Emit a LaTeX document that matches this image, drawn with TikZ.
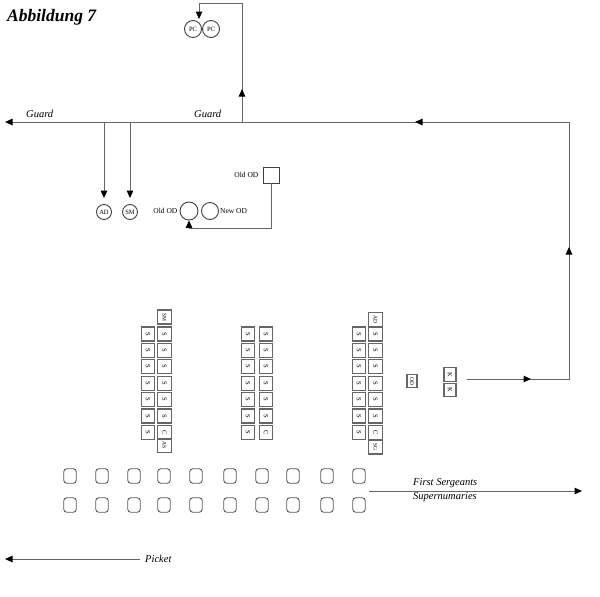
\documentclass[tikz,border=0pt]{standalone}
\usepackage{fontspec}
\setmainfont{Liberation Serif}
\usetikzlibrary{arrows.meta,decorations.markings}
\begin{document}
\begin{tikzpicture}[x=1pt,y=-1pt,
  ln/.style={draw=black!60, line width=1pt},
  tip/.style={-{Triangle[length=7.5pt,width=6.5pt,color=black]}},
  lbl/.style={font=\fontsize{10.5}{12}\selectfont\itshape, inner sep=0pt, anchor=base west},
  sm/.style={font=\fontsize{7.5}{8}\selectfont, inner sep=0pt},
  cbox/.style={draw=black!60, line width=1.1pt, minimum width=14pt, minimum height=13.5pt, inner sep=0pt, font=\fontsize{6.5}{7}\selectfont, rotate=-90},
  rbox/.style={draw=black!65, line width=0.9pt, rounded corners=3pt, minimum width=12.5pt, minimum height=14.5pt, inner sep=0pt},
  circ/.style={circle, draw=black!75, line width=0.9pt, inner sep=0pt, font=\fontsize{6.5}{7}\selectfont}
]
\useasboundingbox (0,0) rectangle (600,597);

% title
\node[font=\fontsize{17.5}{19}\selectfont\bfseries\itshape, anchor=base west, inner sep=0pt] (title) at (7,21) {Abbildung 7};

% PC circles
\node[circ, minimum size=17pt] (pc1) at (193,29) {PC};
\node[circ, minimum size=17pt] (pc2) at (211,29) {PC};

% main guard loop
\coordinate (kstart) at (467,379);
\coordinate (rbot) at (569,379);
\coordinate (rtop) at (569,122);
\coordinate (gL) at (5,122);
\draw[ln, tip, postaction={decorate}, decoration={markings,
   mark=at position 64pt with {\arrow{Triangle[length=7.5pt,width=6.5pt,color=black]}},
   mark=at position 234pt with {\arrow{Triangle[length=7.5pt,width=6.5pt,color=black]}},
   mark=at position 513pt with {\arrow{Triangle[length=7.5pt,width=6.5pt,color=black]}}}]
  (kstart) -- (rbot) -- (rtop) -- (gL);

\node[lbl] (guard1) at (26,117) {Guard};
\node[lbl] (guard2) at (194,117) {Guard};

% line to PC
\coordinate (j1) at (242,122);
\coordinate (t1) at (242,3);
\coordinate (t2) at (199,3);
\coordinate (t3) at (199,19);
\draw[ln, tip, postaction={decorate}, decoration={markings,
   mark=at position 33pt with {\arrow{Triangle[length=7.5pt,width=6.5pt,color=black]}}}]
  (j1) -- (t1) -- (t2) -- (t3);

% AD / SM
\node[circ, minimum size=15pt] (ad) at (104,212) {AD};
\node[circ, minimum size=15pt] (smc) at (130,212) {SM};
\coordinate (ja) at (104,122);
\coordinate (jb) at (130,122);
\draw[ln, tip, shorten >=6pt] (ja) -- (ad);
\draw[ln, tip, shorten >=6pt] (jb) -- (smc);

% Old OD / New OD
\node[draw=black!75, line width=0.9pt, minimum size=16pt, inner sep=0pt] (oldsq) at (271,175) {};
\node[sm, anchor=east] (oldsqlbl) at ([xshift=-4pt]oldsq.west) {Old OD};
\node[circ, minimum size=18pt] (oldc) at (189,211) {};
\node[circ, minimum size=17pt] (newc) at (210,211) {};
\node[sm, anchor=east] (oldclbl) at ([xshift=-2pt]oldc.west) {Old OD};
\node[sm, anchor=west] (newclbl) at ([xshift=1pt]newc.east) {New OD};
\coordinate (lowy) at (0,228);
\draw[ln, tip] (oldsq.south) -- (oldsq.south |- lowy) -| (oldc.south);

% columns
\foreach \i in {0,...,6} {
  \node[cbox] (c1l\i) at (148,{334+16.4*\i}) {S};
  \node[cbox] (c2l\i) at (248,{334+16.4*\i}) {S};
  \node[cbox] (c3l\i) at (359,{334+16.4*\i}) {S};
}
\foreach \i in {0,...,5} {
  \node[cbox] (c1r\i) at (164.5,{334+16.4*\i}) {S};
  \node[cbox] (c2r\i) at (266,{334+16.4*\i}) {S};
  \node[cbox] (c3r\i) at (375.5,{334+16.4*\i}) {S};
}
\node[cbox] (c1r6) at (164.5,{334+16.4*6}) {C};
\node[cbox] (c2r6) at (266,{334+16.4*6}) {C};
\node[cbox] (c3r6) at (375.5,{334+16.4*6}) {C};
\node[cbox, font=\fontsize{5.5}{6}\selectfont] (c1top) at (164.5,317) {SM};
\node[cbox, font=\fontsize{5.5}{6}\selectfont] (c1bot) at (164.5,445.5) {AS};
\node[cbox, font=\fontsize{5.5}{6}\selectfont] (c3top) at (375.5,319.5) {AD};
\node[cbox, font=\fontsize{5.5}{6}\selectfont] (c3bot) at (375.5,447) {SG};

% OD and K boxes
\node[cbox, minimum width=13pt, minimum height=10pt, font=\fontsize{5.5}{6}\selectfont] (odbox) at (412,381) {OD};
\node[cbox, minimum width=13.5pt, minimum height=12pt] (k1) at (450,374.5) {K};
\node[cbox, minimum width=13.5pt, minimum height=12pt] (k2) at (450,390) {K};

% bottom rounded boxes
\foreach \x [count=\n] in {70,102,134,164,196,230,262,293,327,359} {
  \node[rbox] (ra\n) at (\x,476) {};
  \node[rbox] (rb\n) at (\x,505) {};
}

% first sergeants arrow
\coordinate (fs1) at (369,491);
\coordinate (fs2) at (582,491);
\draw[ln, tip] (fs1) -- (fs2);
\node[lbl] (fslbl) at (413,485) {First Sergeants};
\node[lbl] (snlbl) at (413,499) {Supernumaries};

% picket
\coordinate (pk1) at (140,559);
\coordinate (pk2) at (5,559);
\draw[ln, tip] (pk1) -- (pk2);
\node[lbl] (picket) at (145,562) {Picket};
\end{tikzpicture}
\end{document}
